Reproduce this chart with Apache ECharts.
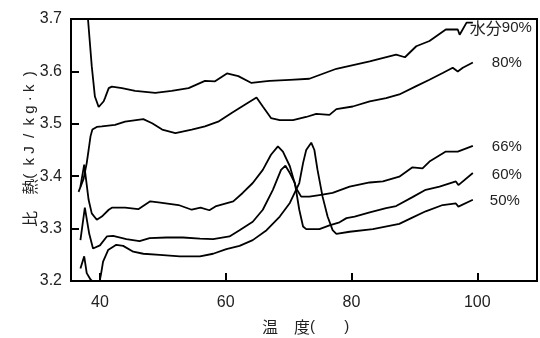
<!DOCTYPE html>
<html><head><meta charset="utf-8">
<script src="https://cdn.jsdelivr.net/npm/echarts@6/dist/echarts.min.js"></script>
<style>html,body{margin:0;padding:0;background:#fff}#c{width:540px;height:338px}</style>
</head><body><div id="c"></div>
<script>
// temperature (°C) / specific heat (kJ/kg·k) per moisture content
const seriesNames = ['水分90%', '80%', '66%', '60%', '50%'];
const xTicks = [40, 60, 80, 100];
const yTicks = [3.2, 3.3, 3.4, 3.5, 3.6, 3.7];

const t90 = [37.9, 38.1, 38.7, 39.2, 39.8, 40.6, 40.8, 41.4, 41.9, 43.5, 45.6, 48.8, 51.4, 54.1, 56.7, 58.3, 60.2, 62.0, 64.1, 66.2, 67.0, 70.2, 73.3, 77.6, 82.9, 87.1, 88.5, 90.3, 92.4, 95.0, 96.9, 97.2, 98.3, 99.3];
const c90 = [3.75, 3.70, 3.61, 3.552, 3.532, 3.543, 3.549, 3.568, 3.571, 3.568, 3.563, 3.559, 3.563, 3.568, 3.582, 3.581, 3.596, 3.591, 3.578, 3.581, 3.582, 3.584, 3.586, 3.605, 3.619, 3.632, 3.627, 3.648, 3.658, 3.680, 3.680, 3.670, 3.693, 3.693];

const t80 = [36.6, 37.4, 37.9, 38.2, 38.5, 38.8, 39.5, 40.3, 42.4, 44.0, 46.9, 48.3, 49.9, 52.0, 54.6, 56.7, 58.8, 61.0, 63.1, 64.9, 65.9, 67.2, 68.6, 70.7, 72.8, 74.4, 76.5, 77.6, 80.2, 82.9, 85.5, 87.6, 90.3, 92.4, 94.5, 96.1, 96.9, 97.7, 99.3];
const c80 = [3.37, 3.395, 3.425, 3.45, 3.476, 3.489, 3.494, 3.495, 3.498, 3.504, 3.509, 3.501, 3.489, 3.482, 3.489, 3.495, 3.504, 3.521, 3.537, 3.550, 3.533, 3.511, 3.507, 3.507, 3.513, 3.519, 3.517, 3.528, 3.533, 3.543, 3.549, 3.556, 3.572, 3.584, 3.597, 3.607, 3.600, 3.607, 3.617];

const t66 = [36.9, 37.5, 38.2, 38.7, 39.5, 40.3, 41.4, 41.9, 44.0, 46.1, 48.0, 49.3, 52.5, 54.6, 56.0, 57.4, 58.5, 61.2, 62.7, 64.3, 65.9, 67.2, 68.3, 69.1, 70.2, 71.2, 72.0, 73.3, 74.9, 77.0, 79.7, 82.9, 85.0, 87.6, 89.7, 91.3, 92.4, 95.0, 96.9, 99.3];
const c66 = [3.38, 3.422, 3.355, 3.329, 3.317, 3.323, 3.336, 3.340, 3.340, 3.337, 3.352, 3.350, 3.345, 3.336, 3.340, 3.335, 3.343, 3.352, 3.368, 3.387, 3.412, 3.441, 3.457, 3.447, 3.419, 3.377, 3.361, 3.361, 3.364, 3.368, 3.380, 3.388, 3.390, 3.399, 3.417, 3.415, 3.428, 3.447, 3.447, 3.458];

const t60 = [36.9, 37.6, 38.3, 38.9, 39.2, 40.0, 41.1, 42.1, 44.2, 46.3, 47.9, 50.6, 53.2, 55.9, 58.0, 60.6, 62.2, 64.3, 65.9, 67.5, 68.8, 69.5, 70.2, 71.0, 71.7, 72.3, 72.8, 74.9, 76.5, 78.1, 79.2, 80.5, 82.9, 85.5, 87.1, 89.7, 91.8, 94.0, 96.6, 97.0, 99.3];
const c60 = [3.278, 3.340, 3.290, 3.262, 3.259, 3.268, 3.285, 3.286, 3.280, 3.276, 3.282, 3.283, 3.283, 3.281, 3.280, 3.285, 3.297, 3.313, 3.336, 3.374, 3.412, 3.420, 3.406, 3.387, 3.336, 3.304, 3.299, 3.299, 3.306, 3.312, 3.320, 3.323, 3.331, 3.339, 3.343, 3.360, 3.374, 3.380, 3.390, 3.383, 3.406];

const t50 = [36.9, 37.5, 37.9, 38.5, 39.2, 39.9, 40.2, 40.5, 41.3, 42.6, 43.7, 45.3, 46.9, 49.5, 52.7, 55.9, 58.0, 60.1, 62.2, 64.3, 66.5, 68.6, 70.2, 71.7, 72.3, 72.8, 73.6, 74.1, 74.6, 75.4, 76.2, 77.0, 77.6, 79.7, 83.4, 87.6, 89.5, 91.8, 94.5, 96.6, 97.0, 99.3];
const c50 = [3.224, 3.247, 3.215, 3.203, 3.195, 3.196, 3.215, 3.237, 3.259, 3.269, 3.267, 3.256, 3.252, 3.250, 3.247, 3.247, 3.252, 3.261, 3.267, 3.278, 3.297, 3.323, 3.349, 3.387, 3.425, 3.450, 3.464, 3.450, 3.412, 3.361, 3.323, 3.297, 3.290, 3.294, 3.299, 3.309, 3.320, 3.333, 3.345, 3.348, 3.342, 3.355];

const temps = [t90, t80, t66, t60, t50];
const heats = [c90, c80, c66, c60, c50];
const labelOffsets = [[-8, 5], [14, 0], [14, 1], [14, 2], [12, 1]];

const chart = echarts.init(document.getElementById('c'), null, {renderer: 'canvas'});
const FONT = '"Liberation Sans", Arial, sans-serif';
const CJK = '"Noto Sans CJK JP", sans-serif';

const series = seriesNames.map((name, i) => ({
  name: name,
  type: 'line',
  data: temps[i].map((t, k) => [t, heats[i][k]]),
  showSymbol: false,
  symbol: 'none',
  clip: true,
  lineStyle: {color: '#000', width: 1.8},
  endLabel: {
    show: true,
    formatter: () => i === 0 ? '{c|水分}{n|90%}' : '{n|' + name + '}',
    offset: labelOffsets[i],
    distance: 5,
    rich: {
      c: {fontFamily: CJK, fontSize: 16, color: '#222'},
      n: {fontFamily: FONT, fontSize: 15, color: '#222'}
    }
  },
  animation: false
}));

chart.setOption({
  animation: false,
  grid: {left: 71, right: 3, top: 19, bottom: 57, show: true, borderColor: '#000', borderWidth: 2, backgroundColor: 'transparent'},
  xAxis: {
    type: 'value', min: 35.4, max: 109.5,
    axisLine: {show: true, onZero: false, lineStyle: {color: '#000', width: 2}},
    axisTick: {show: true, inside: true, length: 8, customValues: xTicks, lineStyle: {color: '#000', width: 2}},
    axisLabel: {customValues: xTicks, fontSize: 16, fontFamily: FONT, color: '#222', margin: 14},
    splitLine: {show: false}
  },
  yAxis: {
    type: 'value', min: 3.2, max: 3.7, interval: 0.1,
    axisLine: {show: true, lineStyle: {color: '#000', width: 2}},
    axisTick: {show: true, inside: true, length: 8, lineStyle: {color: '#000', width: 2}},
    axisLabel: {fontSize: 16, fontFamily: FONT, color: '#222', margin: 9, formatter: v => v.toFixed(1)},
    splitLine: {show: false}
  },
  series: series,
  graphic: [
    {
      type: 'text', x: 30, y: 149, rotation: Math.PI / 2,
      style: {
        text: '{a|比　熱}{b|(  k J  /  k g · k  )}',
        align: 'center', verticalAlign: 'middle',
        rich: {
          a: {fontFamily: CJK, fontSize: 16, fill: '#222', color: '#222'},
          b: {fontFamily: FONT, fontSize: 15, fill: '#222', color: '#222'}
        }
      }
    },
    {
      type: 'text', x: 262, y: 327,
      style: {
        text: '{a|温　度}{b|(       )}',
        align: 'left', verticalAlign: 'middle',
        rich: {
          a: {fontFamily: CJK, fontSize: 16, fill: '#222', color: '#222'},
          b: {fontFamily: FONT, fontSize: 15, fill: '#222', color: '#222'}
        }
      }
    }
  ]
});
</script>
</body></html>
